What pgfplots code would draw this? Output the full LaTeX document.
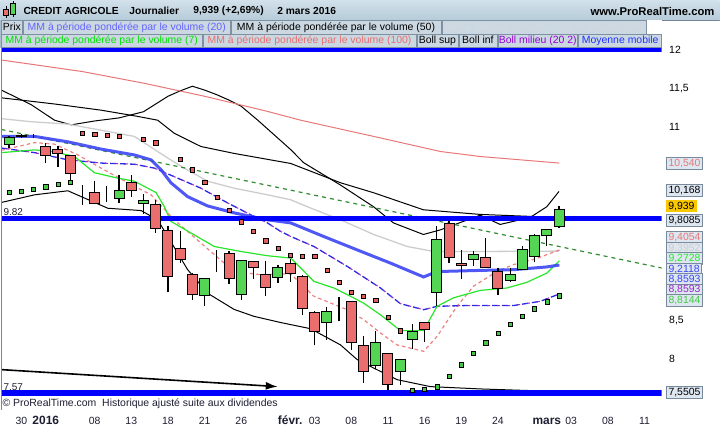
\documentclass[border=0pt]{standalone}
\usepackage{pgfplots}
\pgfplotsset{compat=1.18}
\usepackage{pgfplotstable}
\usepgfplotslibrary{fillbetween}
\usetikzlibrary{arrows.meta}
\usepackage{fontspec}
\setmainfont{Liberation Sans}

\definecolor{bgtop}{RGB}{244,246,255}
\definecolor{bgbot}{RGB}{214,224,247}
\definecolor{bandtop}{RGB}{248,248,218}
\definecolor{bandbot}{RGB}{236,240,230}
\definecolor{cred}{RGB}{234,110,110}
\definecolor{cgreen}{RGB}{84,214,84}
\definecolor{sarred}{RGB}{226,92,92}
\definecolor{sargreen}{RGB}{70,200,70}
\definecolor{mm7}{RGB}{40,230,40}
\definecolor{mmblue}{RGB}{60,70,245}
\definecolor{mm20}{RGB}{40,40,230}
\definecolor{bollmid}{RGB}{150,40,200}
\definecolor{mm100}{RGB}{232,120,120}
\definecolor{mm30}{RGB}{205,205,205}
\definecolor{pinkd}{RGB}{236,130,130}
\definecolor{trend}{RGB}{50,140,50}
\definecolor{hline}{RGB}{0,0,255}
\definecolor{axisgray}{RGB}{120,135,150}
\definecolor{hdtop}{RGB}{210,225,235}
\definecolor{hdbot}{RGB}{182,203,217}
\definecolor{rowbg}{RGB}{170,190,205}
\definecolor{lgfill}{RGB}{203,216,226}
\definecolor{lgborder}{RGB}{125,145,162}
\definecolor{lgblue}{RGB}{100,100,255}
\definecolor{lggray}{RGB}{212,218,224}
\definecolor{lggreen}{RGB}{0,225,0}
\definecolor{lgred}{RGB}{232,110,110}
\definecolor{lgpurple}{RGB}{150,0,210}
\definecolor{lgmm}{RGB}{30,50,255}
\definecolor{vbfill}{RGB}{222,230,240}
\definecolor{vbborder}{RGB}{120,138,155}
\definecolor{gold}{RGB}{250,200,0}
\definecolor{txtdark}{RGB}{30,30,50}

\pgfplotstableread{
i o h l c
-1 10.77 10.89 10.73 10.86
0 10.88 10.91 10.86 10.895
1 10.887 10.91 10.86 10.887
2 10.75 10.79 10.54 10.63
3 10.716 10.76 10.49 10.664
4 10.63 10.63 10.305 10.405
5 10.167 10.25 9.995 10.167
6 10.16 10.305 10.0 10.017
7 10.05 10.24 10.025 10.05
8 10.07 10.383 10.02 10.176
9 10.279 10.383 10.10 10.176
10 10.008 10.137 9.88 10.047
11 10.004 10.06 9.63 9.693
12 9.658 9.723 8.86 9.06
13 9.435 9.658 9.24 9.28
14 9.098 9.11 8.766 8.83
15 8.817 9.046 8.68 9.046
16 9.262 9.413 9.12 9.262
17 9.37 9.40 8.97 9.034
18 8.827 9.283 8.766 9.267
19 9.254 9.27 9.034 9.189
20 9.098 9.27 8.81 8.925
21 9.047 9.22 8.98 9.189
22 9.24 9.29 9.0 9.10
23 9.06 9.089 8.572 8.646
24 8.594 8.615 8.175 8.348
25 8.464 8.67 8.248 8.607
26 8.653 8.80 8.485 8.653
27 8.736 8.75 8.12 8.206
28 8.171 8.30 7.69 7.83
29 7.912 8.365 7.87 8.206
30 8.063 8.07 7.59 7.666
31 7.83 7.99 7.66 7.986
32 8.248 8.45 8.13 8.348
33 8.464 8.48 8.22 8.378
34 8.853 9.714 8.69 9.551
35 9.749 9.779 9.24 9.318
36 9.24 9.41 9.034 9.206
37 9.29 9.40 9.197 9.355
38 9.318 9.564 9.18 9.189
39 9.132 9.176 8.83 8.917
40 9.02 9.176 8.99 9.09
41 9.163 9.465 9.16 9.42
42 9.326 9.62 9.25 9.594
43 9.603 9.68 9.455 9.68
44 9.714 9.98 9.70 9.939
}\candles

\pgfplotstableread{
x y
-1.63 11.48
0.82 11.29
2.72 11.09
4.08 11.03
6 11.08
8 11.12
10 11.20
11 11.30
12 11.40
13 11.47
14 11.53
15 11.48
16 11.42
17 11.35
18 11.27
19.35 11.09
22.04 10.71
23.1 10.54
26.12 10.25
28.82 9.97
30.45 9.76
32.9 9.61
34.29 9.67
37.55 9.86
39.18 9.74
41.63 9.83
43.0 9.97
44.0 10.168
}\bsup

\pgfplotstableread{
x y
-1.63 10.025
1.09 10.124
3.81 10.176
7.08 9.95
9.80 9.92
11.16 9.80
11.98 9.585
13.61 9.155
15.24 8.85
17.41 8.64
19.04 8.55
21.22 8.47
23.67 8.39
26.12 8.18
27.48 7.99
28.84 7.88
30.75 7.73
33.47 7.64
37.55 7.61
41.36 7.59
44 7.58
}\binf

\newcommand\lgfont{\fontsize{10.5}{12}\selectfont}
\newcommand\lb[6]{%
  \draw[draw=lgborder, fill=lgfill, line width=0.6bp] (#1,#3) rectangle (#2,#4);
  \node[text=#5, font=\lgfont, inner sep=0pt, text height=7.6bp, text depth=2bp] at ({(#1+#2)/2},{(#3+#4)/2}) {#6};}
\newcommand\vb[3]{%
  \node[anchor=west, draw=vbborder, fill=vbfill, line width=0.7bp, inner xsep=2bp, inner ysep=1bp,
        text height=7.8bp, text depth=2.2bp, text=#2, font=\lgfont] at (666.5,#1) {#3};}

\begin{document}
\begin{tikzpicture}[x=1bp,y=1bp]
\fill[white] (0,0) rectangle (720,430);
\shade[top color=hdtop, bottom color=hdbot] (0,410) rectangle (720,430);
\draw[axisgray, line width=0.8bp] (0,410) -- (720,410);

\begin{axis}[
  at={(1bp,20bp)}, anchor=south west,
  scale only axis, width=661bp, height=376bp,
  xmin=-1.63, xmax=52.4, ymin=7.343, ymax=12.207,
  axis x line*=bottom, axis y line*=right,
  axis line style={draw=axisgray, line width=0.8bp},
  tick align=outside, major tick length=4bp,
  tick style={black, line width=0.7bp},
  xtick={0,2,6,9,12,15,18,22,24,27,30,33,36,39,43,45,48,51},
  xticklabels={30,{\fontsize{12}{12}\selectfont\bfseries 2016},08,13,18,21,26,{\fontsize{12}{12}\selectfont\bfseries févr.},03,08,11,16,19,24,{\fontsize{12}{12}\selectfont\bfseries mars},03,08,11},
  xticklabel style={font=\lgfont, text=txtdark, text height=9bp, text depth=1bp, inner sep=1.5bp},
  ytick={8,8.5,11,11.5,12},
  yticklabels={8,{8,5},11,{11,5},12},
  yticklabel style={font=\lgfont, text=black},
  axis background/.style={top color=bgtop, bottom color=bgbot},
]
% Bollinger band fill
\addplot[name path=bsup, draw=none, forget plot] table[x=x, y=y] {\bsup};
\addplot[name path=binf, draw=none, forget plot] table[x=x, y=y] {\binf};
\addplot[top color=bandtop, bottom color=bandbot, draw=none] fill between[of=bsup and binf];
% Bollinger band lines
\addplot[black, line width=1bp] table[x=x, y=y] {\bsup};
\addplot[black, line width=1bp] table[x=x, y=y] {\binf};
% MM 100
\addplot[mm100, line width=1bp] coordinates {
(-1.63,11.87) (5,11.72) (10,11.57) (15,11.40) (20,11.21) (22.86,11.09) (28.84,10.88) (34.29,10.685) (37.55,10.62) (44.03,10.535)};
% MM 30
\addplot[mm30, line width=1.3bp] coordinates {
(-1.63,11.11) (0.82,11.07) (3.81,11.04) (9.25,10.88) (11.98,10.60) (13.33,10.47) (15.24,10.30) (17.41,10.21) (20.14,10.124) (22.04,10.06) (23.4,9.97) (26.12,9.80) (28.84,9.61) (31.57,9.455) (33.74,9.39) (37.55,9.39) (44.03,9.395)};
% MM 50
\addplot[black, line width=1bp] coordinates {
(-1.63,11.38) (2.72,11.30) (6.53,11.22) (9.5,11.14) (11.16,11.09) (12.52,10.92) (14.69,10.75) (17.41,10.66) (22.04,10.53) (26.12,10.28) (28.84,10.15) (32.9,9.93) (37.55,9.87) (44,9.83)};
% trend line
\addplot[trend, line width=1.2bp, dash pattern=on 4bp off 4bp] coordinates {(-1.63,10.97) (52.4,9.176)};
% pink dashed
\addplot[pinkd, line width=1.2bp, dash pattern=on 3.5bp off 3bp] coordinates {
(-1.63,10.70) (-0.27,10.75) (1.09,10.80) (2.72,10.78) (4.63,10.64) (6.53,10.47) (8.71,10.28) (10.61,10.124) (12.52,9.80) (14.69,9.50) (17.41,9.13) (19.59,9.09) (22.04,9.10) (23.94,8.81) (26.67,8.636) (28.02,8.507) (29.39,8.335) (30.75,8.18) (32.92,8.097) (34.02,8.29) (35.65,8.68) (37.0,8.94) (38.91,9.13) (40.27,9.22) (42.18,9.30) (44.03,9.41)};
% MM20 / Boll milieu
\addplot[mm20, line width=1.3bp, dash pattern=on 6bp off 4bp] coordinates {
(-1.63,10.73) (1.09,10.67) (3.81,10.577) (6.53,10.535) (9.25,10.52) (10.88,10.47) (12.79,10.34) (14.69,10.21) (16.87,10.02) (18.78,9.865) (20.14,9.76) (21.22,9.65) (22.04,9.585) (23.94,9.455) (26.67,9.197) (29.39,8.917) (31.02,8.714) (32.92,8.636) (34.02,8.68) (36.46,8.69) (40.27,8.69) (42.45,8.744) (44.03,8.84)};
\addplot[bollmid, line width=1bp, dash pattern=on 3bp off 7bp, dash phase=5bp] coordinates {
(-1.63,10.73) (1.09,10.67) (3.81,10.577) (6.53,10.535) (9.25,10.52) (10.88,10.47) (12.79,10.34) (14.69,10.21) (16.87,10.02) (18.78,9.865) (20.14,9.76) (21.22,9.65) (22.04,9.585) (23.94,9.455) (26.67,9.197) (29.39,8.917) (31.02,8.714) (32.92,8.636) (34.02,8.68) (36.46,8.69) (40.27,8.69) (42.45,8.744) (44.03,8.84)};
% MM7
\addplot[mm7, line width=1.2bp] coordinates {
(-1.63,10.67) (1.09,10.706) (2.72,10.68) (4.35,10.62) (5.98,10.41) (7.89,10.34) (9.25,10.30) (11.02,10.154) (11.7,9.97) (12.24,9.78) (13.88,9.63) (15.78,9.455) (17.96,9.39) (20.14,9.335) (22.04,9.305) (22.59,9.22) (23.94,9.003) (25.58,8.917) (26.94,8.81) (28.02,8.72) (29.39,8.57) (31.02,8.365) (32.92,8.365) (34.02,8.68) (35.37,8.79) (37.55,8.886) (39.73,8.917) (41.36,8.99) (43.0,9.11) (44.03,9.27)};
% Moyenne mobile
\addplot[mmblue, line width=3bp, opacity=0.9] coordinates {
(-1.63,10.88) (1.09,10.88) (3.81,10.81) (6.53,10.716) (9.25,10.64) (10.61,10.577) (11.43,10.45) (12.24,10.28) (13.61,10.10) (15.24,9.98) (17.41,9.89) (20.14,9.80) (22.04,9.76) (24.73,9.585) (27.49,9.41) (30.2,9.24) (32.92,9.06) (34.02,9.13) (37.55,9.145) (40.27,9.154) (43.0,9.19) (44.03,9.215)};
% horizontal lines
\addplot[hline, line width=3.5bp] coordinates {(-1.63,12.0) (52.4,12.0)};
\addplot[hline, line width=5.5bp] coordinates {(-1.63,9.82) (52.4,9.82)};
\addplot[hline, line width=5.5bp] coordinates {(-1.63,7.556) (52.4,7.556)};
% arrow
\addplot[black, line width=1.6bp, -{Latex[length=12bp, width=8bp]}] coordinates {(-1.63,7.86) (20.98,7.64)};
% SAR
\addplot[only marks, mark=square*, mark size=2.1bp, mark options={draw=none, fill=sargreen}] coordinates {
(-1,10.154) (0,10.167) (1,10.193) (2,10.228) (3,10.258) (4,10.284)
(32,7.593) (33,7.61) (34,7.64) (35,7.77) (36,7.925) (37,8.07) (38,8.21) (39,8.33) (40,8.446) (41,8.55) (42,8.65) (43,8.74) (44,8.818)};
\addplot[only marks, mark=square*, mark size=2.1bp, mark options={draw=none, fill=sarred}] coordinates {
(5,10.926) (6,10.913) (7,10.891) (8,10.879) (10,10.84) (11,10.80) (13,10.58) (14,10.45) (15,10.29) (16,10.09) (17,9.92) (18,9.775) (19,9.65) (20,9.53) (21,9.43) (22,9.34) (23,9.33) (24,9.33) (25,9.145) (26,8.99) (27,8.86) (28,8.81) (29,8.757) (30,8.537) (31,8.365)};
% wicks
\addplot[draw=none, mark=none,
  error bars/.cd, y dir=plus, y explicit, error mark=none,
  error bar style={draw=black, line width=1.2bp}]
  table[x=i, y=l, y error expr={\thisrow{h}-\thisrow{l}}] {\candles};
\end{axis}

% candle bodies
\begin{axis}[
  at={(1bp,20bp)}, anchor=south west,
  scale only axis, width=661bp, height=376bp,
  xmin=-1.63, xmax=52.4, ymin=7.343, ymax=12.207,
  hide axis, ybar stacked, bar width=10bp,
]
\addplot[draw=none, fill=none] table[x=i, y expr={min(\thisrow{o},\thisrow{c})}] {\candles};
\addplot[draw=black, line width=1bp, fill=cgreen] table[x=i, y expr={max(\thisrow{c}-\thisrow{o},0)}] {\candles};
\addplot[draw=black, line width=1bp, fill=cred] table[x=i, y expr={max(\thisrow{o}-\thisrow{c},0)}] {\candles};
\end{axis}

% left border
\draw[axisgray, line width=0.8bp] (1,20) -- (1,396);
% texts in plot
\node[anchor=west, font=\fontsize{10}{12}\selectfont, text=txtdark, inner sep=0pt] at (3,218) {9.82};
\node[anchor=west, font=\fontsize{10}{12}\selectfont, text=txtdark, inner sep=0pt] at (3,42) {7.57};
\node[anchor=west, font=\lgfont, text=txtdark, inner sep=0pt] at (2,26) {© ProRealTime.com\ \ Historique ajusté suite aux dividendes};

% legend rows
\fill[rowbg] (0,382) rectangle (662,410);
\fill[white] (647.5,396) rectangle (662,410);
\lb{1}{22}{396}{409.5}{black}{Prix}
\lb{23}{230}{396}{409.5}{lgblue}{MM à période pondérée par le volume (20)}
\lb{231}{441}{396}{409.5}{black}{MM à période pondérée par le volume (50)}
\lb{442}{647}{396}{409.5}{lggray}{MM à période pondérée par le volume (30)}
\lb{1}{202}{382.5}{395.5}{lggreen}{MM à période pondérée par le volume (7)}
\lb{203}{416}{382.5}{395.5}{lgred}{MM à période pondérée par le volume (100)}
\lb{417}{458}{382.5}{395.5}{black}{Boll sup}
\lb{459}{497}{382.5}{395.5}{black}{Boll inf}
\lb{498}{578}{382.5}{395.5}{lgpurple}{Boll milieu (20 2)}
\lb{579}{662}{382.5}{395.5}{lgmm}{Moyenne mobile}

% header
\draw[black, line width=0.7bp] (5.5,412) -- (5.5,424);
\draw[black, line width=0.6bp, fill=cred] (3,414.5) rectangle (8,421);
\draw[black, line width=0.7bp] (12.5,413) -- (12.5,429);
\draw[black, line width=0.6bp, fill=cgreen] (10,416) rectangle (15,427);
\node[anchor=west, inner sep=0pt, font=\fontsize{10.3}{12}\selectfont\bfseries] at (23,419.5) {CREDIT AGRICOLE};
\node[anchor=west, inner sep=0pt, font=\fontsize{10.3}{12}\selectfont\bfseries] at (129,419.5) {Journalier};
\node[anchor=west, inner sep=0pt, font=\fontsize{10.3}{12}\selectfont\bfseries] at (193,419.5) {9,939 (+2,69\%)};
\node[anchor=west, inner sep=0pt, font=\fontsize{10.3}{12}\selectfont\bfseries] at (277,419.5) {2 mars 2016};
\node[anchor=east, inner sep=0pt, font=\fontsize{11.3}{12}\selectfont\bfseries] at (715,419) {www.ProRealTime.com};

% value boxes
\vb{266.3}{mm100}{10,540}
\vb{239}{black}{10,168}
\node[anchor=west, fill=gold, inner xsep=2bp, inner ysep=1bp, text height=7.8bp, text depth=2.2bp, font=\lgfont] at (666.5,223.3) {9,939};
\vb{209.5}{black}{9,8085}
\vb{192}{mm100}{9,4054}
\vb{181.5}{mm30}{9,3952}
\vb{171}{mm7}{9,2728}
\vb{160.5}{mmblue}{9,2118}
\vb{150}{mmblue}{8,8593}
\vb{139.5}{bollmid}{8,8593}
\vb{129}{sargreen}{8,8144}
\vb{37}{black}{7,5505}
\end{tikzpicture}
\end{document}
